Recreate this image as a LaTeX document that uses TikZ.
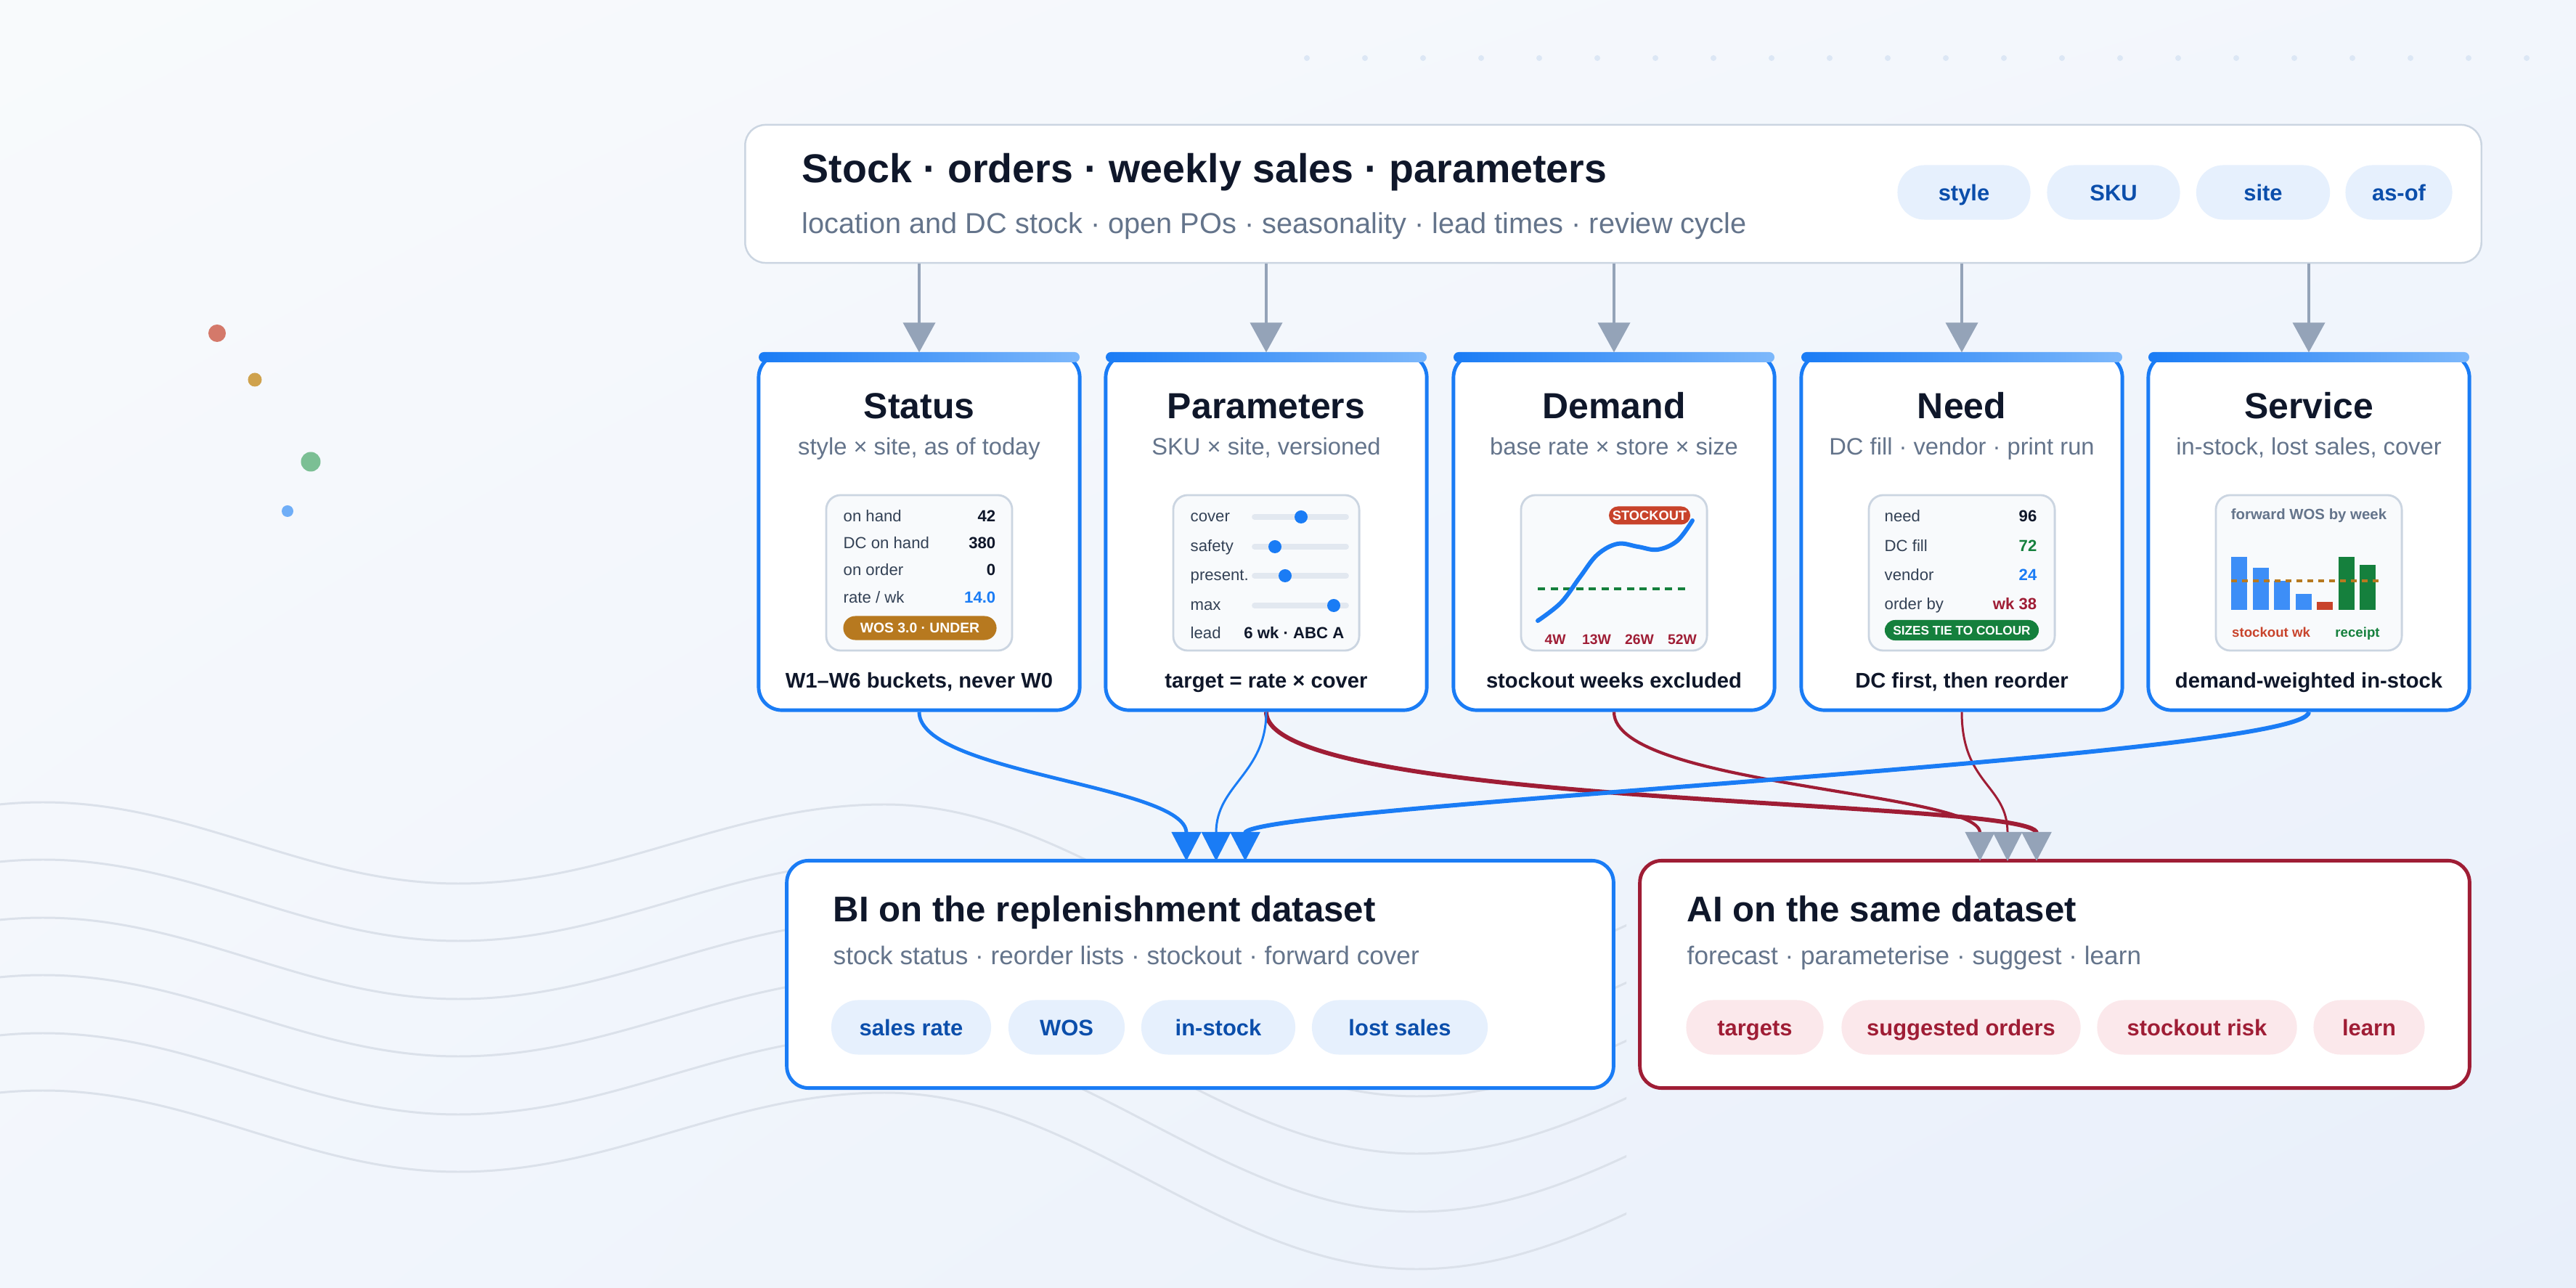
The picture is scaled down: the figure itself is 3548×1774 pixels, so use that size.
\documentclass[tikz,border=0pt]{standalone}
\usepackage{fontspec}
\setmainfont{Liberation Sans}
\usetikzlibrary{arrows.meta,shadings}

\definecolor{ink}{HTML}{0F172A}
\definecolor{dim}{HTML}{334155}
\definecolor{slate}{HTML}{64748B}
\definecolor{rim}{HTML}{CBD5E1}
\definecolor{bluem}{HTML}{1A7CF5}
\definecolor{bluel}{HTML}{7DB8FB}
\definecolor{barb}{HTML}{3D8EF7}
\definecolor{pillb}{HTML}{E6F0FD}
\definecolor{pillbt}{HTML}{0B4EAB}
\definecolor{crim}{HTML}{9F1D35}
\definecolor{pillr}{HTML}{FBE8EB}
\definecolor{arrg}{HTML}{94A3B8}
\definecolor{gold}{HTML}{B7791F}
\definecolor{grn}{HTML}{15803D}
\definecolor{rust}{HTML}{C8432B}
\definecolor{panel}{HTML}{F8FAFC}
\definecolor{track}{HTML}{E2E8F0}
\definecolor{wavec}{HTML}{DBE1EA}
\definecolor{dotc}{HTML}{DCE7F5}
\definecolor{bgA}{HTML}{F8FAFC}
\definecolor{bgB}{HTML}{E8EFFA}
\definecolor{bgC}{HTML}{F2F6FC}
\definecolor{dotr}{HTML}{D4796A}
\definecolor{dotg}{HTML}{CFA24D}
\definecolor{dotn}{HTML}{7BBF94}
\definecolor{dotb}{HTML}{6FAEF7}

\newcommand\fs[1]{\fontsize{#1}{#1}\selectfont}

\tikzset{
  txt/.style={inner sep=0pt, text=ink},
  srcbox/.style={draw=rim, line width=0.7pt, fill=white, rounded corners=0.28cm,
    minimum width=23.9cm, minimum height=1.9cm},
  card/.style={draw=bluem, line width=1.4pt, fill=white, rounded corners=0.32cm,
    minimum width=4.42cm, minimum height=4.9cm},
  outbox/.style={line width=1.4pt, fill=white, rounded corners=0.3cm,
    minimum height=3.13cm},
  ctitle/.style={txt, font=\bfseries\fs{14.2}, anchor=base},
  csub/.style={txt, text=slate, font=\fs{9.3}, anchor=base},
  cfoot/.style={txt, font=\bfseries\fs{8.3}, anchor=base},
  panelbox/.style={draw=rim, line width=0.8pt, fill=panel, rounded corners=0.2cm,
    minimum width=2.56cm, minimum height=2.14cm},
  row/.style={txt, text=dim, font=\fs{6.3}, anchor=base west},
  val/.style={txt, font=\bfseries\fs{6.3}, anchor=base east},
  tag/.style={inner sep=0pt, text=white, font=\bfseries\fs{5.2},
    text height=3.7pt, text depth=0pt},
  pill/.style={inner sep=0pt, fill=pillb, text=pillbt, font=\bfseries\fs{8.8},
    rounded corners=0.37cm, minimum height=0.75cm, text height=6.3pt, text depth=0pt},
  rpill/.style={pill, fill=pillr, text=crim},
  trk/.style={draw=track, line width=2.2pt, line cap=round},
  wave/.style={draw=wavec, line width=0.85pt},
  feed/.style={draw=arrg, line width=1.1pt, -{Triangle[length=0.41cm, width=0.44cm]}},
  bflow/.style={draw=bluem, -{Triangle[length=0.4cm, width=0.4cm]}},
  rflow/.style={draw=crim, -{Triangle[length=0.4cm, width=0.4cm, color=arrg]}}
}

\begin{document}
\begin{tikzpicture}[x=0.01cm, y=-0.01cm]
  \useasboundingbox (0,0) rectangle (3548,1774);

  % backdrop
  \shade[upper left=bgA, upper right=bgC, lower left=bgC, lower right=bgB] (0,0) rectangle (3548,1774);
  \foreach \i in {0,...,21}
    \fill[dotc] (1800+80*\i,80) circle (0.04cm);
  \fill[dotr] (299,459) circle (0.12cm);
  \fill[dotg] (351,523) circle (0.095cm);
  \fill[dotn] (428,636) circle (0.135cm);
  \fill[dotb] (396,704) circle (0.08cm);
  \begin{scope}
    \clip (0,0) rectangle (2240,1774);
    \foreach \y in {1105,1184,1264,1343,1423,1502}
      \draw[wave] (-520,\y+112) .. controls (-310,\y+112) and (-150,\y) .. (59,\y)
        .. controls (267,\y) and (423,\y+112) .. (631,\y+112)
        .. controls (845,\y+112) and (1004,\y+3) .. (1218,\y+3)
        .. controls (1485,\y+3) and (1684,\y+246) .. (1951,\y+246)
        .. controls (2224,\y+246) and (2427,\y+10) .. (2700,\y+10);
  \end{scope}

  % source tables
  \node[srcbox] (src) at (2222,267) {};
  \node[txt, font=\bfseries\fs{15.8}, anchor=base west] (src-t) at (1104,252)
    {Stock · orders · weekly sales · parameters};
  \node[txt, text=slate, font=\fs{11.3}, anchor=base west] (src-s) at (1104,322)
    {location and DC stock · open POs · seasonality · lead times · review cycle};
  \node[pill, minimum width=1.83cm] (k-style) at (2705,265) {style};
  \node[pill, minimum width=1.83cm] (k-sku) at (2911,265) {SKU};
  \node[pill, minimum width=1.84cm] (k-site) at (3117,265) {site};
  \node[pill, minimum width=1.47cm] (k-asof) at (3304,265) {as-of};

  % the five cards
  \foreach \n/\x/\t/\s/\f in {
      st/1266/Status/{style × site, as of today}/{W1–W6 buckets, never W0},
      pa/1744/Parameters/{SKU × site, versioned}/{target = rate × cover},
      de/2223/Demand/{base rate × store × size}/{stockout weeks excluded},
      ne/2702/Need/{DC fill · vendor · print run}/{DC first, then reorder},
      se/3180/Service/{in-stock, lost sales, cover}/{demand-weighted in-stock}} {
    \node[card] (\n) at (\x,733) {};
    \shade[left color=bluem, right color=bluel, rounded corners=0.07cm]
      (\x-221,485) rectangle (\x+221,499);
    \node[ctitle] (\n-t) at (\x,577) {\t};
    \node[csub] (\n-s) at (\x,627) {\s};
    \node[panelbox] (\n-p) at (\x,789) {};
    \node[cfoot] (\n-f) at (\x,948) {\f};
    \draw[feed] (src.south -| \n.north) -- (\n.north);
  }

  % Status
  \node[row] (st-l1) at (1161,719) {on hand};
  \node[val] (st-v1) at (1372,719) {42};
  \node[row] (st-l2) at (1161,756) {DC on hand};
  \node[val] (st-v2) at (1372,756) {380};
  \node[row] (st-l3) at (1161,793) {on order};
  \node[val] (st-v3) at (1372,793) {0};
  \node[row] (st-l4) at (1161,831) {rate / wk};
  \node[val, text=bluem] (st-v4) at (1372,831) {14.0};
  \node[tag, fill=gold, font=\bfseries\fs{5.5}, rounded corners=0.165cm,
    minimum width=2.11cm, minimum height=0.33cm] (st-w) at (1267,865) {WOS 3.0 · UNDER};

  % Parameters
  \node[row] (pa-l1) at (1639,719) {cover};
  \node[row] (pa-l2) at (1639,760) {safety};
  \node[row] (pa-l3) at (1639,800) {present.};
  \node[row] (pa-l4) at (1639,841) {max};
  \node[row] (pa-l5) at (1639,880) {lead};
  \node[val] (pa-v5) at (1852,880) {6 wk · ABC A};
  \foreach \y/\k in {712/1792, 753/1756, 793/1770, 834/1837} {
    \draw[trk] (1728,\y) -- (1854,\y);
    \fill[bluem] (\k,\y) circle (0.09cm);
  }

  % Demand
  \draw[grn, line width=1.4pt, dash pattern=on 0.1cm off 0.075cm] (2118,811) -- (2328,811);
  \draw[bluem, line width=1.7pt, line cap=round] plot[smooth, tension=0.6] coordinates
    {(2118,855) (2150,830) (2176,795) (2200,764) (2228,749) (2256,753) (2283,757) (2310,745) (2331,717)};
  \node[tag, fill=rust, rounded corners=0.125cm, minimum width=1.12cm, minimum height=0.25cm]
    (de-so) at (2272,710) {STOCKOUT};
  \node[txt, text=crim, font=\bfseries\fs{5.5}, anchor=base] (de-a1) at (2142,888) {4W};
  \node[txt, text=crim, font=\bfseries\fs{5.5}, anchor=base] (de-a2) at (2199,888) {13W};
  \node[txt, text=crim, font=\bfseries\fs{5.5}, anchor=base] (de-a3) at (2258,888) {26W};
  \node[txt, text=crim, font=\bfseries\fs{5.5}, anchor=base] (de-a4) at (2317,888) {52W};

  % Need
  \node[row] (ne-l1) at (2595,719) {need};
  \node[val] (ne-v1) at (2806,719) {96};
  \node[row] (ne-l2) at (2595,760) {DC fill};
  \node[val, text=grn] (ne-v2) at (2806,760) {72};
  \node[row] (ne-l3) at (2595,800) {vendor};
  \node[val, text=bluem] (ne-v3) at (2806,800) {24};
  \node[row] (ne-l4) at (2595,840) {order by};
  \node[val, text=crim] (ne-v4) at (2806,840) {wk 38};
  \node[tag, fill=grn, font=\bfseries\fs{4.9}, rounded corners=0.14cm,
    minimum width=2.12cm, minimum height=0.28cm] (ne-w) at (2702,868) {SIZES TIE TO COLOUR};

  % Service
  \node[txt, text=slate, font=\bfseries\fs{5.8}, anchor=base] (se-h) at (3180,716) {forward WOS by week};
  \foreach \a/\h/\c in {3073/767/barb, 3103/782/barb, 3132/800/barb, 3162/818/barb,
      3191/829/rust, 3221/767/grn, 3250/778/grn}
    \fill[\c] (\a,\h) rectangle (\a+22,840);
  \draw[gold, line width=1.1pt, dash pattern=on 0.08cm off 0.07cm] (3073,800) -- (3283,800);
  \node[txt, text=rust, font=\bfseries\fs{5.3}, anchor=base] (se-x1) at (3128,878) {stockout wk};
  \node[txt, text=grn, font=\bfseries\fs{5.3}, anchor=base] (se-x2) at (3247,878) {receipt};

  % BI and AI on the dataset
  \node[outbox, draw=bluem, minimum width=11.38cm] (bi) at (1653,1342) {};
  \node[txt, font=\bfseries\fs{14}, anchor=base west] (bi-t) at (1147,1270) {BI on the replenishment dataset};
  \node[txt, text=slate, font=\fs{10}, anchor=base west] (bi-s) at (1147,1328)
    {stock status · reorder lists · stockout · forward cover};
  \node[pill, minimum width=2.2cm] (bi-k1) at (1255,1415) {sales rate};
  \node[pill, minimum width=1.6cm] (bi-k2) at (1469,1415) {WOS};
  \node[pill, minimum width=2.12cm] (bi-k3) at (1678,1415) {in-stock};
  \node[pill, minimum width=2.42cm] (bi-k4) at (1928,1415) {lost sales};

  \node[outbox, draw=crim, minimum width=11.42cm] (ai) at (2830,1342) {};
  \node[txt, font=\bfseries\fs{14}, anchor=base west] (ai-t) at (2323,1270) {AI on the same dataset};
  \node[txt, text=slate, font=\fs{10}, anchor=base west] (ai-s) at (2323,1328)
    {forecast · parameterise · suggest · learn};
  \node[rpill, minimum width=1.89cm] (ai-k1) at (2417,1415) {targets};
  \node[rpill, minimum width=3.29cm] (ai-k2) at (2701,1415) {suggested orders};
  \node[rpill, minimum width=2.75cm] (ai-k3) at (3026,1415) {stockout risk};
  \node[rpill, minimum width=1.53cm] (ai-k4) at (3263,1415) {learn};

  % flows into the two boxes
  \coordinate (bi-a) at (1634,1186);
  \coordinate (bi-b) at (1675,1186);
  \coordinate (bi-c) at (1715,1186);
  \coordinate (ai-a) at (2727,1186);
  \coordinate (ai-b) at (2765,1186);
  \coordinate (ai-c) at (2805,1186);
  \draw[rflow, line width=1.7pt] (pa.south) .. controls +(0,132) and +(0,-86) .. (ai-c);
  \draw[rflow, line width=1.2pt] (de.south) .. controls +(0,102) and +(0,-96) .. (ai-a);
  \draw[rflow, line width=0.85pt] (ne.south) .. controls +(0,100) and +(0,-105) .. (ai-b);
  \draw[bflow, line width=1.4pt] (st.south) .. controls +(0,85) and +(0,-105) .. (bi-a);
  \draw[bflow, line width=0.85pt] (pa.south) .. controls +(0,85) and +(0,-105) .. (bi-b);
  \draw[bflow, line width=1.7pt] (se.south) .. controls +(0,62) and +(0,-76) .. (bi-c);
\end{tikzpicture}
\end{document}
